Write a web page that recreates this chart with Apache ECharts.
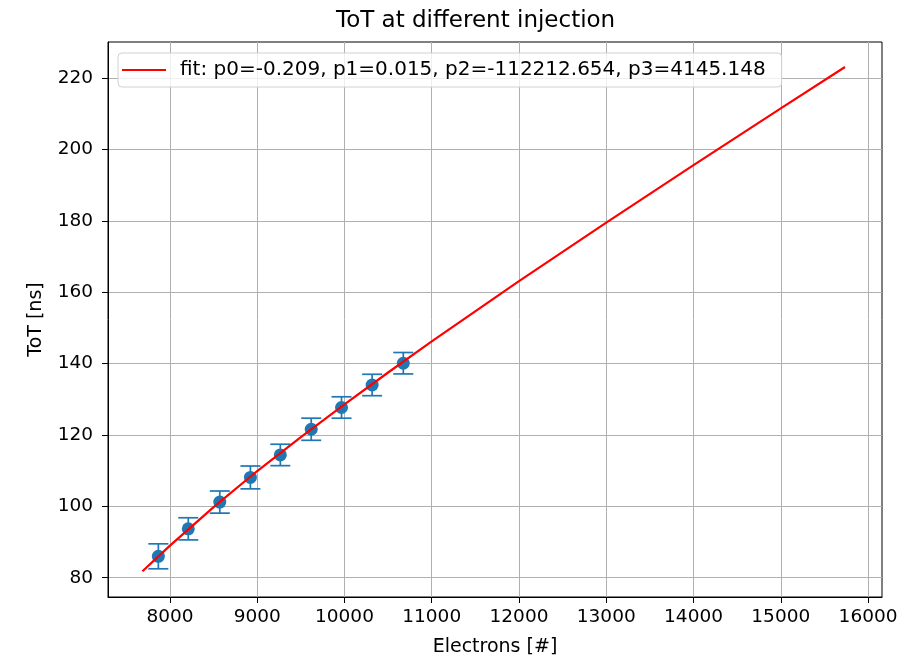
<!DOCTYPE html>
<html>
<head>
<meta charset="utf-8">
<script src="https://cdn.jsdelivr.net/npm/echarts@6/dist/echarts.min.js"></script>
<style>
html,body{margin:0;padding:0;background:#fff;}
#c{width:913px;height:657px;}
</style>
</head>
<body>
<div id="c"></div>
<script>
// Measured points (electrons, ToT) and their error half-widths
var pointX = [7867, 8210, 8571, 8922, 9265, 9619, 9966, 10317, 10674];
var pointY = [86.0, 93.7, 101.2, 108.1, 114.4, 121.6, 127.7, 134.0, 140.1];
var pointErr = [3.5, 3.1, 3.1, 3.2, 3.0, 3.1, 3.0, 3.0, 3.0];

// Fit curve
var fitX = [7685, 8000, 8500, 9000, 9500, 10000, 10500, 11000, 12000, 13000, 14000, 15000, 15736];
var fitY = [81.8, 89.0, 99.8, 109.9, 119.4, 128.6, 137.5, 146.2, 163.1, 179.5, 195.6, 211.5, 223.1];

var xTicks = [8000, 9000, 10000, 11000, 12000, 13000, 14000, 15000, 16000];
var yTicks = [80, 100, 120, 140, 160, 180, 200, 220];

var fitName = 'fit: p0=-0.209, p1=0.015, p2=-112212.654, p3=4145.148';
var titleText = 'ToT at different injection';
var xName = 'Electrons [#]';
var yName = 'ToT [ns]';

var FONT = 'DejaVu Sans';
var chart = echarts.init(document.getElementById('c'), null, {renderer: 'canvas'});

var pts = pointX.map(function (x, i) { return [x, pointY[i]]; });
var errData = pointX.map(function (x, i) { return [x, pointY[i], pointErr[i]]; });
var fitData = fitX.map(function (x, i) { return [x, fitY[i]]; });

var option = {
  animation: false,
  backgroundColor: '#fff',
  title: {
    text: titleText,
    left: 331,
    top: 5,
    textStyle: {fontFamily: FONT, fontSize: 23, fontWeight: 'normal', color: '#000'}
  },
  grid: {
    left: 108, right: 31, top: 42, bottom: 60,
    outerBoundsMode: 'none', containLabel: false,
    show: true, borderColor: '#000', borderWidth: 1, backgroundColor: 'transparent'
  },
  legend: {
    left: 118, top: 53,
    backgroundColor: 'rgba(255,255,255,0.8)',
    borderColor: '#d0d0d0', borderWidth: 1, borderRadius: 4,
    padding: [7, 16, 7, 4],
    itemWidth: 44, itemHeight: 2,
    data: [{name: fitName, icon: 'rect'}],
    textStyle: {fontFamily: FONT, fontSize: 20, color: '#000', padding: [0, 0, 0, 9]}
  },
  xAxis: {
    type: 'value', min: 7290, max: 16160,
    name: xName, nameLocation: 'middle', nameGap: 41,
    nameTextStyle: {fontFamily: FONT, fontSize: 19, color: '#000'},
    axisLine: {show: true, lineStyle: {color: '#000', width: 1}},
    axisTick: {show: true, length: 6, lineStyle: {color: '#000'}, customValues: xTicks},
    axisLabel: {fontFamily: FONT, fontSize: 18.5, color: '#000', margin: 11, customValues: xTicks,
      formatter: function (v) { return String(v); }},
    splitLine: {show: true, lineStyle: {color: '#b0b0b0', width: 1}}
  },
  yAxis: {
    type: 'value', min: 74.6, max: 230.1,
    name: yName, nameLocation: 'middle', nameGap: 62, nameRotate: 90,
    nameTextStyle: {fontFamily: FONT, fontSize: 19, color: '#000'},
    axisLine: {show: true, lineStyle: {color: '#000', width: 1}},
    axisTick: {show: true, length: 6, lineStyle: {color: '#000'}, customValues: yTicks},
    axisLabel: {fontFamily: FONT, fontSize: 18.5, color: '#000', margin: 15, customValues: yTicks,
      formatter: function (v) { return String(v); }},
    splitLine: {show: true, lineStyle: {color: '#b0b0b0', width: 1}}
  },
  series: [
    {
      name: 'err', type: 'custom', data: errData, z: 3,
      renderItem: function (params, api) {
        var x = api.value(0), y = api.value(1), e = api.value(2);
        var top = api.coord([x, y + e]);
        var bot = api.coord([x, y - e]);
        var cap = 10;
        var st = {stroke: '#1f77b4', lineWidth: 1.7};
        return {
          type: 'group',
          children: [
            {type: 'line', shape: {x1: top[0], y1: top[1], x2: bot[0], y2: bot[1]}, style: st},
            {type: 'line', shape: {x1: top[0] - cap, y1: top[1], x2: top[0] + cap, y2: top[1]}, style: st},
            {type: 'line', shape: {x1: bot[0] - cap, y1: bot[1], x2: bot[0] + cap, y2: bot[1]}, style: st}
          ]
        };
      }
    },
    {
      name: 'data', type: 'scatter', data: pts, symbol: 'circle', symbolSize: 13, z: 4,
      itemStyle: {color: '#1f77b4', opacity: 1}
    },
    {
      name: fitName, type: 'line', data: fitData, showSymbol: false, symbol: 'none', z: 5,
      smooth: false, lineStyle: {color: '#ff0000', width: 2.2}, itemStyle: {color: '#ff0000'}
    }
  ]
};
chart.setOption(option);
</script>
</body>
</html>
